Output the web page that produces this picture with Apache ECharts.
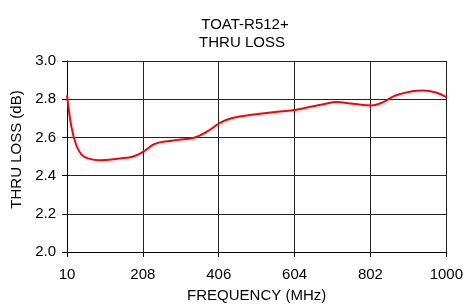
<!DOCTYPE html>
<html>
<head>
<meta charset="utf-8">
<script src="https://cdn.jsdelivr.net/npm/echarts@6/dist/echarts.min.js"></script>
<style>
    html, body { margin: 0; padding: 0; background: #fff; }
    #chart { width: 466px; height: 308px; }
</style>
</head>
<body>
<div id="chart"></div>
<script>
// frequency (MHz) and thru loss (dB)
const freqs = [10, 22, 35, 48, 65, 96, 148, 183, 209, 235, 252, 300, 339, 356, 383, 406, 435, 513, 565, 604, 643, 680, 713, 756, 804, 830, 873, 938, 973, 1000]
const loss = [2.82, 2.65, 2.555, 2.51, 2.49, 2.48, 2.49, 2.50, 2.525, 2.562, 2.574, 2.587, 2.597, 2.609, 2.64, 2.672, 2.698, 2.724, 2.736, 2.743, 2.759, 2.774, 2.785, 2.776, 2.767, 2.78, 2.823, 2.845, 2.835, 2.811]
const xTicks = [10, 208, 406, 604, 802, 1000]
const yTicks = [2.0, 2.2, 2.4, 2.6, 2.8, 3.0]

// the x axis starts at 10, so values are offset by it to keep ticks on multiples of the interval
const xStart = xTicks[0]
const xStep = xTicks[1] - xTicks[0]

const font = 'Liberation Sans, Arial, sans-serif'
const titleStyle = {
    fontFamily: font,
    fontSize: 15,
    fontWeight: 'normal',
    color: '#000'
}
const chart = echarts.init(document.getElementById('chart'))

const option = {
    animation: false,
    title: [
        { text: 'TOAT-R512+', left: 240, top: 12, textAlign: 'center', textStyle: titleStyle },
        { text: 'THRU LOSS', left: 237, top: 30, textAlign: 'center', textStyle: titleStyle }
    ],
    grid: {
        left: 67,
        right: 19,
        top: 61,
        bottom: 55
    },
    xAxis: {
        type: 'value',
        min: 0,
        max: xTicks[xTicks.length - 1] - xStart,
        interval: xStep,
        name: 'FREQUENCY (MHz)',
        nameLocation: 'middle',
        nameGap: 36,
        nameTextStyle: { fontFamily: font, fontSize: 15, color: '#000' },
        axisLine: { lineStyle: { color: '#000', width: 1 } },
        axisTick: { show: true, length: 5, lineStyle: { color: '#000' } },
        axisLabel: {
            margin: 15,
            fontFamily: font,
            fontSize: 15,
            color: '#000',
            formatter: v => String(Math.round(v + xStart))
        },
        splitLine: { show: true, lineStyle: { color: '#222', width: 1 } }
    },
    yAxis: {
        type: 'value',
        min: yTicks[0],
        max: yTicks[yTicks.length - 1],
        interval: 0.2,
        name: 'THRU LOSS (dB)',
        nameLocation: 'middle',
        nameGap: 41,
        nameTextStyle: { fontFamily: font, fontSize: 15, color: '#000', padding: [0, 0, 0, 14] },
        axisLine: { show: true, lineStyle: { color: '#000', width: 1 } },
        axisTick: { show: true, length: 5, lineStyle: { color: '#000' } },
        axisLabel: {
            margin: 11,
            fontFamily: font,
            fontSize: 15,
            color: '#000',
            formatter: v => v.toFixed(1)
        },
        splitLine: { show: true, lineStyle: { color: '#222', width: 1 } }
    },
    series: [
        {
            type: 'line',
            smooth: 0.4,
            symbol: 'none',
            lineStyle: { color: '#ff0000', width: 2 },
            data: freqs.map((f, i) => [f - xStart, loss[i]])
        }
    ]
}

chart.setOption(option)
</script>
</body>
</html>
